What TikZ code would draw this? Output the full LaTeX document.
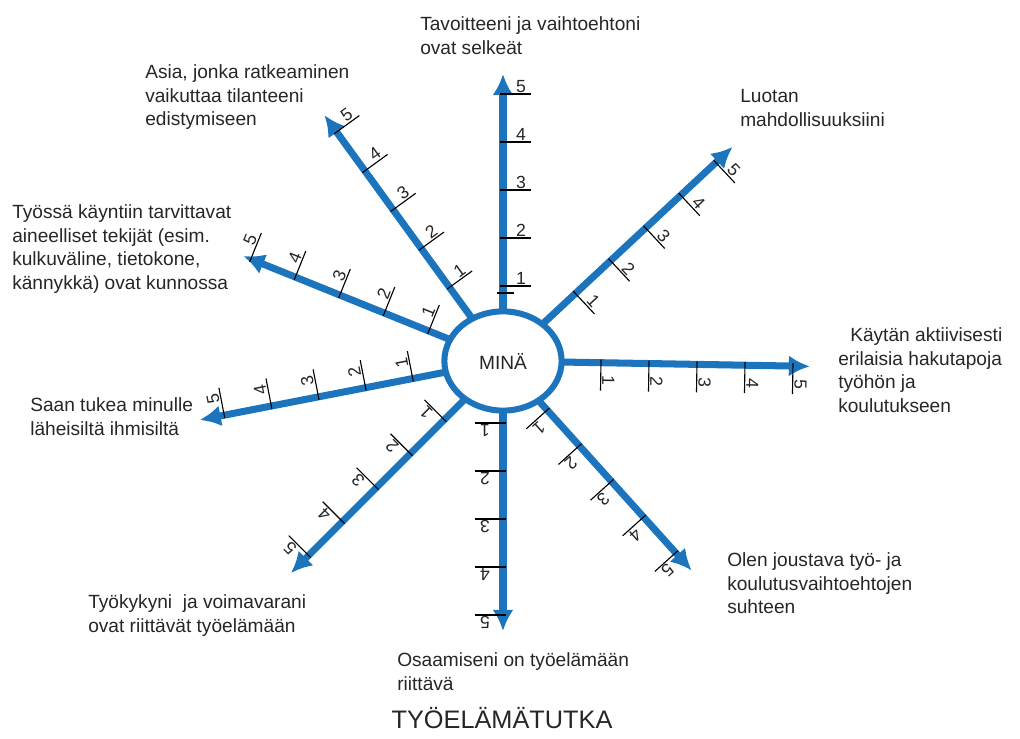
\documentclass[tikz,border=0pt]{standalone}
\usepackage{fontspec}
\setmainfont{Liberation Sans}
\usepackage{tikz}
\usetikzlibrary{shapes}
\usetikzlibrary{arrows.meta}
\definecolor{tutkablue}{RGB}{28,117,188}
\tikzset{
  labelnode/.style = {align=left, inner sep=0pt, anchor=north west,
    font=\fontsize{13.6}{17}\selectfont, text=black!85},% texte autour du radar
  mina_node/.style = {ellipse, draw=tutkablue, fill=white, line width=4.3pt,
    minimum width=2.93cm, minimum height=2.48cm, inner sep=0pt, outer sep=0pt,
    font=\fontsize{13.6}{17}\selectfont, text=black!85},% noeud central
  axis_arrow/.style = {draw=tutkablue, line width=5pt,
    -{Latex[length=15pt,width=15pt]}},% axe bleu
  tick_mark/.style = {draw=black, line width=0.8pt},% graduation
  tick_label/.style = {anchor=south, inner sep=1pt, transform shape,
    font=\fontsize{12.5}{14}\selectfont, text=black!85}% chiffre de graduation
}

\begin{document}
\begin{tikzpicture}[x=0.025cm, y=0.025cm]
  \useasboundingbox (0,0) rectangle (1020,738);
  \node [mina_node] (mina) at (503,377) {MINÄ};
  \foreach \a/\first/\len [count=\i] in {90/75/287, 43/99/314, 359/98/307,
      312/66/282, 270/62/270, 225/83/300, 191/92/309, 158/80/280, 126/91/304}{
    \path (mina.center) ++(\a:\len) coordinate (tip\i);
    \draw [axis_arrow] (mina.\a) -- (tip\i);
    \begin{scope}[shift={(mina.center)}, rotate=\a-90]
      \foreach \k in {1,...,5}{
        \pgfmathsetmacro{\d}{\first+48*(\k-1)}
        \draw [tick_mark] (-3,\d) -- (28,\d);
        \node [tick_label] at (18,\d) {\k};
      }
    \end{scope}
  }
  \draw [tick_mark] (497,445) -- (514,445);

  \node [labelnode] (goal) at (420,722) {Tavoitteeni ja vaihtoehtoni\\ovat selkeät};
  \node [labelnode] (trust) at (740,649) {Luotan\\mahdollisuuksiini};
  \node [labelnode] (search) at (838,411) {\hspace*{0.3cm}Käytän aktiivisesti\\erilaisia hakutapoja\\työhön ja\\koulutukseen};
  \node [labelnode] (flex) at (727,186) {Olen joustava työ- ja\\koulutusvaihtoehtojen\\suhteen};
  \node [labelnode] (skills) at (397,86) {Osaamiseni on työelämään\\riittävä};
  \node [labelnode] (health) at (88,144) {Työkykyni\ \ ja voimavarani\\ovat riittävät työelämään};
  \node [labelnode] (support) at (30,341) {Saan tukea minulle\\läheisiltä ihmisiltä};
  \node [labelnode] (tools) at (12,534) {Työssä käyntiin tarvittavat\\aineelliset tekijät (esim.\\kulkuväline, tietokone,\\kännykkä) ovat kunnossa};
  \node [labelnode] (issue) at (145,674) {Asia, jonka ratkeaminen\\vaikuttaa tilanteeni\\edistymiseen};
  \node [anchor=base, inner sep=0pt, font=\fontsize{18}{22}\selectfont,
    text=black!85] (title) at (502,10) {TYÖELÄMÄTUTKA};
\end{tikzpicture}
\end{document}
